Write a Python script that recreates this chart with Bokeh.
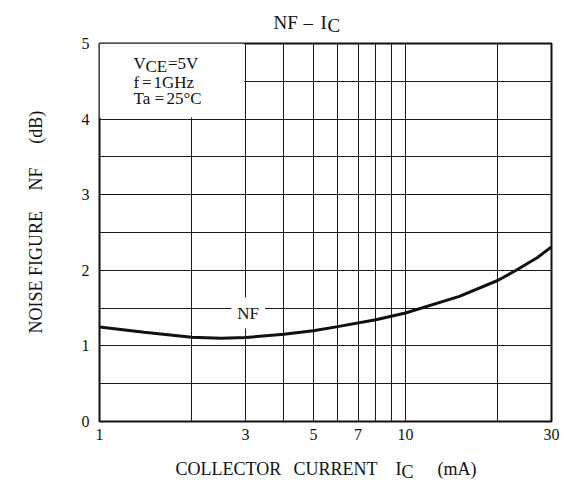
import math
from bokeh.plotting import figure
from bokeh.layouts import column, row
from bokeh.models import FixedTicker, Label, BasicTickFormatter, Range1d
from bokeh.embed import file_html
from bokeh.resources import INLINE

# ---- data ----
ic_ma = [1, 1.4, 2, 2.5, 3, 4, 5, 6, 8, 10, 15, 20, 23, 27, 30]
nf_db = [1.25, 1.18, 1.115, 1.10, 1.11, 1.155, 1.20, 1.255, 1.345, 1.435, 1.655, 1.865, 2.0, 2.17, 2.31]
x_ticks = [1, 3, 5, 7, 10, 30]
y_ticks = [0, 1, 2, 3, 4, 5]
x_grid = [2, 3, 4, 5, 6, 7, 8, 9, 10, 20]
y_grid = [0.5, 1, 1.5, 2, 2.5, 3, 3.5, 4, 4.5]

FONT = "Liberation Serif"
INK = "#111111"


def text_fig(w, h):
    f = figure(width=w, height=h, x_range=Range1d(0, w), y_range=Range1d(0, h),
               output_backend="svg", toolbar_location=None,
               x_axis_location=None, y_axis_location=None, min_border=0)
    f.outline_line_color = None
    f.xgrid.visible = False
    f.ygrid.visible = False
    f.background_fill_color = "white"
    f.border_fill_color = "white"
    return f


def lab(fig, text, x, y, size, align="left", angle=0.0):
    fig.add_layout(Label(x=x, y=y, text=text, text_font=FONT, text_font_size=size,
                         text_align=align, text_baseline="middle", text_color=INK,
                         angle=angle))


# ---------------- main chart ----------------
p = figure(width=500, height=413, x_axis_type="log", x_range=(1, 30), y_range=(0, 5),
           output_backend="svg", toolbar_location=None,
           min_border_left=39, min_border_right=9, min_border_top=7, min_border_bottom=28)
p.background_fill_color = "white"
p.border_fill_color = "white"
p.outline_line_color = INK
p.outline_line_width = 2

p.xgrid.ticker = FixedTicker(ticks=x_grid)
p.ygrid.ticker = FixedTicker(ticks=y_grid)
for g in (p.xgrid, p.ygrid):
    g.grid_line_color = "#1a1a1a"
    g.grid_line_width = 1
    g.grid_line_alpha = 1.0

p.xaxis.ticker = FixedTicker(ticks=x_ticks)
p.xaxis.formatter = BasicTickFormatter()
p.yaxis.ticker = FixedTicker(ticks=y_ticks)
for ax in (p.xaxis, p.yaxis):
    ax.axis_line_color = None
    ax.major_tick_line_color = None
    ax.minor_tick_line_color = None
    ax.major_label_text_font = FONT
    ax.major_label_text_font_size = "16px"
    ax.major_label_text_color = INK
p.xaxis.major_label_standoff = 1
p.yaxis.major_label_standoff = 4

# white box behind the conditions text
p.quad(left=[1], right=[2.97], bottom=[4.02], top=[5], fill_color="white", line_color=None)

# curve
p.line(ic_ma, nf_db, line_color=INK, line_width=3)

# curve label
p.add_layout(Label(x=3.06, y=1.435, text="NF", text_font=FONT, text_font_size="17px",
                   text_align="center", text_baseline="middle", text_color=INK,
                   background_fill_color="white", background_fill_alpha=1.0, padding=6))

# conditions text (page coords converted to offsets from data point (1, 0))
X0, Y0 = 99, 421
def cond(text, px, py):
    p.add_layout(Label(x=1, y=0, x_offset=px - X0, y_offset=Y0 - py, text=text,
                       text_font=FONT, text_font_size="17px", text_align="left",
                       text_baseline="middle", text_color=INK))

cond("V", 133, 62.5)
cond("CE", 145, 66)
cond("=", 167.5, 62.5)
cond("5V", 177, 62.5)
cond("f", 133, 81.5)
cond("=", 141.5, 81.5)
cond("1GHz", 153, 81.5)
cond("Ta", 133, 97.5)
cond("=", 154, 97.5)
cond("25\u00b0C", 166, 97.5)

# ---------------- title ----------------
TH = 36
t = text_fig(560, TH)
lab(t, "NF", 273, TH - 21.5, "19px")
lab(t, "\u2013", 303, TH - 21.5, "19px")
lab(t, "I", 320, TH - 21.5, "19px")
lab(t, "C", 327, TH - 25, "19px")

# ---------------- y axis title ----------------
YH = 413
YTOP = TH
yl = text_fig(60, YH)
lab(yl, "NOISE FIGURE", 35, YH - (286 - YTOP), "18px", align="center", angle=math.pi / 2)
lab(yl, "NF", 35, YH - (184 - YTOP), "18px", align="center", angle=math.pi / 2)
lab(yl, "(dB)", 35, YH - (127.5 - YTOP), "18px", align="center", angle=math.pi / 2)

# ---------------- x axis title ----------------
XH = 32
XTOP = TH + YH
xl = text_fig(560, XH)
lab(xl, "COLLECTOR", 175, XTOP + XH - 468, "18px")
lab(xl, "CURRENT", 293, XTOP + XH - 468, "18px")
lab(xl, "I", 395, XTOP + XH - 468, "18px")
lab(xl, "C", 401, XTOP + XH - 471.5, "18px")
lab(xl, "(mA)", 437, XTOP + XH - 468, "18px")

layout = column(t, row(yl, p, spacing=0), xl, spacing=0)

open("out.html", "w").write(file_html(layout, INLINE))
